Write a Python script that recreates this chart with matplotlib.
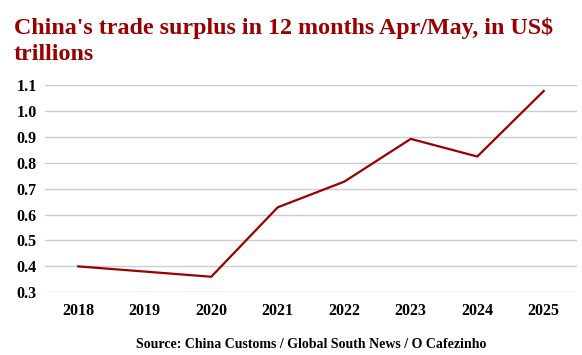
import matplotlib.pyplot as plt

years = ["2018", "2019", "2020", "2021", "2022", "2023", "2024", "2025"]
surplus = [0.40, 0.38, 0.36, 0.628, 0.727, 0.892, 0.824, 1.077]
yticks = [0.3, 0.4, 0.5, 0.6, 0.7, 0.8, 0.9, 1.0, 1.1]

plt.rcParams['font.family'] = ['Liberation Serif', 'DejaVu Serif']

fig = plt.figure(figsize=(5.82, 3.55), dpi=100)
ax = fig.add_axes([45 / 582, 1 - 292.3 / 355, 532 / 582, (292.3 - 85) / 355])

ax.plot(range(len(years)), surplus, color='#990000', lw=1.6)
ax.set_xlim(-0.5, len(years) - 0.5)
ax.set_ylim(0.3, 1.1)
ax.set_yticks(yticks)
ax.set_yticklabels(["%.1f" % v for v in yticks], fontsize=11.5, fontweight='bold')
ax.set_xticks(range(len(years)))
ax.set_xticklabels(years, fontsize=11.5, fontweight='bold')
ax.grid(axis='y', color='#cccccc', lw=1)
ax.set_axisbelow(True)
for s in ax.spines.values():
    s.set_visible(False)
ax.tick_params(length=0, pad=8)
ax.tick_params(axis='y', pad=6)

fig.text(14 / 582, 1 - 17 / 355, "China's trade surplus in 12 months Apr/May, in US$\ntrillions",
         ha='left', va='top', fontsize=17.3, fontweight='bold', color='#990000', linespacing=1.3)
fig.text(311 / 582, 1 - 344 / 355, "Source: China Customs / Global South News / O Cafezinho",
         ha='center', va='center', fontsize=10, fontweight='bold')

plt.savefig("out.png", dpi=100)
